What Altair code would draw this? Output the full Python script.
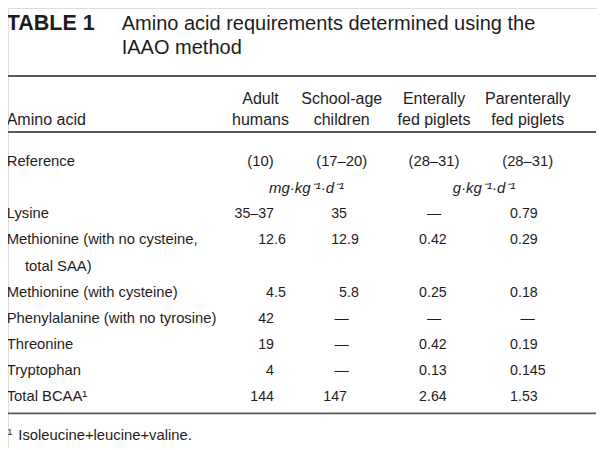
import altair as alt
import pandas as pd

# ---------------- data ----------------
table_number = "TABLE 1"
title_lines = ["Amino acid requirements determined using the", "IAAO method"]
first_col_header = "Amino acid"
col_header_top = ["Adult", "School-age", "Enterally", "Parenterally"]
col_header_bottom = ["humans", "children", "fed piglets", "fed piglets"]
reference_label = "Reference"
references = ["(10)", "(17–20)", "(28–31)", "(28–31)"]
unit_labels = ["mg·kg⁻¹·d⁻¹", "g·kg⁻¹·d⁻¹"]
row_labels = [
    "Lysine",
    "Methionine (with no cysteine,",
    "Methionine (with cysteine)",
    "Phenylalanine (with no tyrosine)",
    "Threonine",
    "Tryptophan",
    "Total BCAA¹",
]
label_continuation = "total SAA)"
adult_humans = ["35–37", "12.6", "4.5", "42", "19", "4", "144"]
school_age_children = ["35", "12.9", "5.8", "—", "—", "—", "147"]
enterally_fed_piglets = ["—", "0.42", "0.25", "—", "0.42", "0.13", "2.64"]
parenterally_fed_piglets = ["0.79", "0.29", "0.18", "—", "0.19", "0.145", "1.53"]
footnote_mark = "1"
footnote_text = "Isoleucine+leucine+valine."

# ---------------- layout (page pixel coordinates) ----------------
LEFT = 6.7
INDENT = 25
TITLE_X = 121.7
TITLE_Y = [24, 48]
HEADER_Y = [98.5, 120]
COL_CENTER = [260.5, 341.7, 434.0, 527.7]
COL_ANCHOR = [274, 347, 427, 518]
UNIT_CENTER = [306.5, 484]
ROW0_Y = 162
ROW_STEP = 26.15
DATA_ROWS = [2, 3, 5, 6, 7, 8, 9]
CONT_ROW = 4
RULES_Y = [76, 132, 413.3]
RULE_X = [6, 596]
FOOT_Y = 436
FOOT_X = 18.3
FOOT_MARK_X = 7.3


def row_y(i):
    return ROW0_Y + ROW_STEP * i


items = []
items.append(dict(text=table_number, x=LEFT, y=TITLE_Y[0], kind="tnum"))
for t, yy in zip(title_lines, TITLE_Y):
    items.append(dict(text=t, x=TITLE_X, y=yy, kind="title"))
items.append(dict(text=first_col_header, x=LEFT, y=HEADER_Y[1], kind="hleft"))
for c, (a, b) in enumerate(zip(col_header_top, col_header_bottom)):
    items.append(dict(text=a, x=COL_CENTER[c], y=HEADER_Y[0], kind="hcenter"))
    items.append(dict(text=b, x=COL_CENTER[c], y=HEADER_Y[1], kind="hcenter"))
items.append(dict(text=reference_label, x=LEFT, y=row_y(0), kind="label"))
for c, r in enumerate(references):
    items.append(dict(text=r, x=COL_CENTER[c], y=row_y(0), kind="center"))
for u, ux in zip(unit_labels, UNIT_CENTER):
    items.append(dict(text=u, x=ux, y=row_y(1), kind="unit"))
for lab, ri in zip(row_labels, DATA_ROWS):
    items.append(dict(text=lab, x=LEFT, y=row_y(ri), kind="label"))
items.append(dict(text=label_continuation, x=INDENT, y=row_y(CONT_ROW), kind="label"))

columns = [adult_humans, school_age_children, enterally_fed_piglets, parenterally_fed_piglets]
for c, col in enumerate(columns):
    for v, ri in zip(col, DATA_ROWS):
        if v == "—":
            items.append(dict(text=v, x=COL_CENTER[c], y=row_y(ri), kind="dash"))
        elif "." in v:
            ip, fp = v.split(".")
            items.append(dict(text=ip, x=COL_ANCHOR[c], y=row_y(ri), kind="int"))
            items.append(dict(text="." + fp, x=COL_ANCHOR[c], y=row_y(ri), kind="frac"))
        else:
            items.append(dict(text=v, x=COL_ANCHOR[c], y=row_y(ri), kind="int"))

items.append(dict(text=footnote_mark, x=FOOT_MARK_X, y=FOOT_Y - 4, kind="sup"))
items.append(dict(text=footnote_text, x=FOOT_X, y=FOOT_Y, kind="foot"))

df = pd.DataFrame(items)
rules = pd.DataFrame({"y": RULES_Y, "x": [RULE_X[0]] * 3, "x2": [RULE_X[1]] * 3})

W, H = 589, 440
xs = alt.Scale(domain=[8, 8 + W], range=[0, W])
ys = alt.Scale(domain=[8, 8 + H], range=[0, H])
X = alt.X("x:Q", scale=xs, axis=None)
Y = alt.Y("y:Q", scale=ys, axis=None)

INK = "#1f1c1d"
FONT = "Liberation Sans"

base = alt.Chart(df)


def layer(kind, **mk):
    opts = dict(font=FONT, color=INK, baseline="middle")
    opts.update(mk)
    return base.transform_filter(alt.datum.kind == kind).mark_text(**opts).encode(
        x=X, y=Y, text="text:N"
    )


layers = [
    layer("tnum", align="left", fontSize=21.5, fontWeight="bold"),
    layer("title", align="left", fontSize=20),
    layer("hleft", align="left", fontSize=16),
    layer("hcenter", align="center", fontSize=16),
    layer("label", align="left", fontSize=14.8),
    layer("center", align="center", fontSize=14.8),
    layer("unit", align="center", fontSize=15, fontStyle="italic"),
    layer("int", align="right", fontSize=14.2),
    layer("frac", align="left", fontSize=14.2),
    layer("dash", align="center", fontSize=14.2),
    layer("sup", align="left", fontSize=9.5),
    layer("foot", align="left", fontSize=14.8),
]

rule_layer = alt.Chart(rules).mark_rule(color="#58595b", strokeWidth=1.8).encode(
    x=alt.X("x:Q", scale=xs, axis=None),
    x2="x2:Q",
    y=alt.Y("y:Q", scale=ys, axis=None),
)

chart = (
    alt.layer(rule_layer, *layers)
    .properties(width=W, height=H, padding=0, autosize=alt.AutoSizeParams(type="none"))
    .configure_view(strokeWidth=0)
    .configure(background="white")
)

chart.save("out.html", embed_options={"renderer": "svg", "actions": False})
